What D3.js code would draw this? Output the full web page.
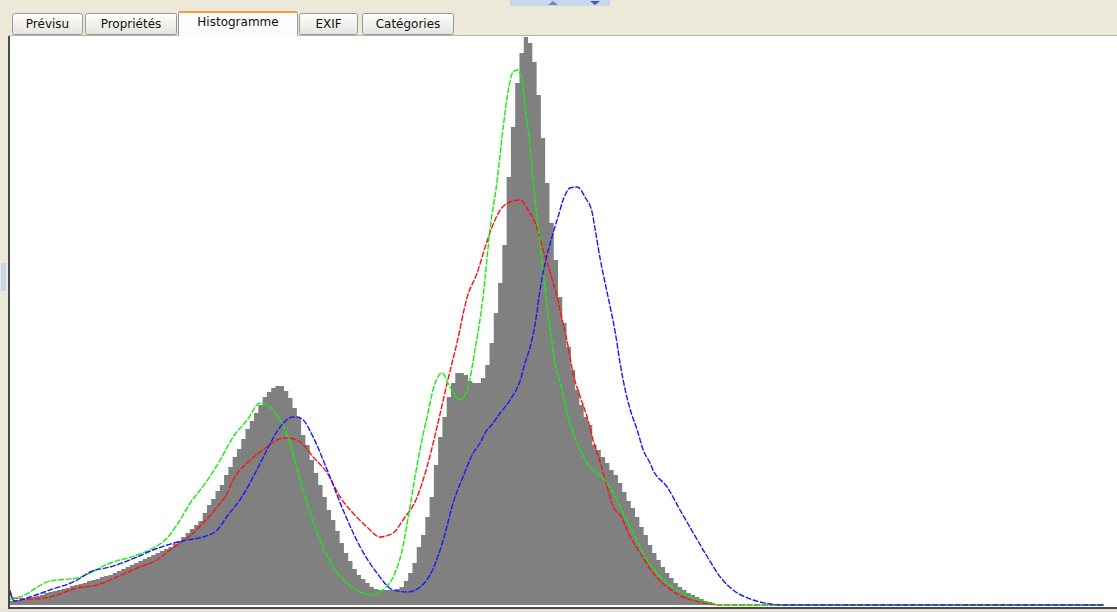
<!DOCTYPE html>
<html>
<head>
<meta charset="utf-8">
<script src="https://cdn.jsdelivr.net/npm/d3@7"></script>
<style>
  html, body { margin: 0; padding: 0; background: #ece9d8; }
  svg { display: block; }
</style>
</head>
<body>
<div id="chart"></div>
<script>
// onglets
var tabs = ["Prévisu", "Propriétés", "Histogramme", "EXIF", "Catégories"];
var activeTab = "Histogramme";

// histogramme de luminance (hauteur, niveaux 0..164)
var grayCounts = [
  4, 5, 5, 6, 7, 8, 9, 10, 12, 13, 14, 15, 16, 17, 19, 20, 21, 22, 24, 25,
  26, 28, 29, 30, 32, 34, 36, 38, 40, 42, 44, 46, 48, 50, 52, 54, 56, 58, 61, 64,
  68, 72, 76, 80, 84, 92, 100, 106, 114, 120, 130, 138, 148, 156, 166, 176, 184, 192, 200, 208,
  213, 217, 219, 219, 214, 207, 197, 187, 170, 160, 145, 132, 120, 108, 95, 85, 74, 62, 52, 44,
  36, 30, 26, 22, 18, 16, 15, 15, 15, 15, 16, 18, 24, 32, 42, 58, 70, 88, 108, 140,
  168, 188, 208, 222, 232, 232, 230, 224, 222, 222, 227, 240, 262, 292, 322, 360, 428, 478, 522, 552,
  568, 562, 543, 510, 467, 422, 382, 345, 308, 282, 258, 235, 215, 200, 188, 180, 160, 155, 148, 142,
  135, 130, 122, 113, 104, 97, 88, 78, 70, 60, 52, 45, 38, 32, 27, 22, 18, 15, 12, 10,
  8, 6, 4, 3, 1
];

// courbes R, V, B : [niveau, hauteur]
var redCurve = [
  [0, 15], [0.7, 7], [4.7, 6], [9.3, 8], [15.7, 17], [20.3, 20], [25, 28], [29.7, 37],
  [34.3, 45], [37.4, 55], [39.7, 62], [42.8, 72], [45.1, 82], [48.4, 98], [50.9, 113],
  [52.1, 125], [55.4, 142], [59.1, 155], [62.4, 165], [64.7, 167], [67.8, 163], [70.8, 148],
  [74.1, 132], [77.1, 108], [80.1, 92], [83.4, 78], [86.4, 68], [89.5, 72], [91.8, 85],
  [95.1, 108], [97.4, 138], [100.5, 192], [102.1, 222], [104.4, 262], [106.8, 308],
  [109.1, 332], [111, 358], [112.6, 378], [114.5, 395], [116.8, 403], [119.2, 405],
  [121, 395], [122.7, 382], [124.3, 358], [126.2, 332], [127.8, 308], [129, 285],
  [130.4, 258], [131.5, 232], [133.2, 208], [134.8, 188], [136.2, 165], [137.9, 142],
  [139.5, 118], [140.9, 98], [142.5, 90], [144.9, 68], [147.2, 52], [150.2, 32],
  [153.5, 18], [157.2, 8], [161.2, 3], [163.6, 1], [165, 0], [255.5, 0]
];

var greenCurve = [
  [0, 6], [2.3, 8], [9.3, 24], [15.7, 27], [23.4, 42], [29.7, 50], [33.4, 57], [36.7, 67],
  [39, 80], [42.1, 102], [46, 124], [49.1, 145], [52.1, 168], [55.4, 185], [58.4, 202],
  [60.7, 198], [63.1, 185], [65.4, 162], [67.8, 125], [70.1, 92], [72.4, 65], [75.5, 38],
  [78.7, 22], [81.8, 13], [84.8, 10], [87.1, 15], [89.5, 28], [91.6, 55], [93.5, 100],
  [95.3, 145], [97.4, 188], [99.3, 222], [100.9, 232], [102.8, 218], [105.1, 205],
  [106.8, 215], [108.6, 255], [110.5, 308], [112.1, 375], [113.8, 425], [115.2, 478],
  [116.4, 515], [117.5, 533], [118.5, 535], [119.6, 525], [120.3, 498], [121.5, 458],
  [122.2, 425], [123.1, 388], [123.8, 362], [124.5, 335], [125.5, 298], [126.2, 275],
  [127.3, 242], [129, 215], [130.1, 192], [131.3, 175], [133.2, 155], [134.8, 142],
  [137.1, 132], [139.5, 122], [141.8, 105], [142.5, 98], [145.6, 72], [148.8, 45],
  [151.9, 28], [155.8, 15], [159.6, 7], [163.6, 2], [166.6, 0], [255.5, 0]
];

var blueCurve = [
  [0, 13], [1, 4], [4.7, 8], [9.3, 15], [15.7, 25], [18.7, 33], [23.4, 38], [29.7, 48],
  [33.4, 55], [36.7, 60], [41.4, 65], [45.1, 68], [48.4, 75], [50.9, 90], [53.7, 105],
  [56.8, 128], [60, 155], [63.1, 178], [66.1, 188], [67.1, 188], [68.5, 185], [70.8, 168],
  [74.1, 135], [77.8, 95], [81.8, 58], [85.7, 32], [89.5, 15], [92.8, 13], [95.8, 18],
  [98.8, 36], [101.2, 65], [103.5, 102], [105.8, 128], [108.2, 152], [109.8, 162],
  [111.4, 175], [112.1, 178], [114.5, 192], [116.8, 205], [119.2, 225], [120.3, 242],
  [121.5, 258], [122.7, 282], [123.8, 315], [125, 342], [126.6, 368], [128, 388],
  [129.2, 405], [130.8, 417], [132.5, 418], [134.3, 408], [136, 392], [136.7, 375],
  [137.9, 345], [139, 322], [140.2, 298], [141.4, 272], [142.5, 242], [143.7, 215],
  [144.9, 195], [146.5, 175], [147.9, 155], [149.5, 142], [150.2, 135], [153.5, 118],
  [156.5, 95], [159.6, 72], [162.9, 48], [165.9, 28], [168.9, 15], [173.6, 5],
  [177.6, 1], [180, 0], [255.5, 0]
];

var W = 1117, H = 612;
var svg = d3.select("#chart").append("svg").attr("width", W).attr("height", H);

// fond beige
svg.append("rect").attr("width", W).attr("height", H).attr("fill", "#ece9d8");

// petite poignée du séparateur en haut
var grip = svg.append("g");
grip.append("rect").attr("x", 510).attr("y", 0).attr("width", 100).attr("height", 6)
  .attr("fill", "#c9d6f0");
grip.append("path").attr("d", "M548,5 L553,1 L558,5 Z").attr("fill", "#6f86c4");
grip.append("path").attr("d", "M590,1 L595,5 L600,1 Z").attr("fill", "#3c58b0");
// poignée à gauche
svg.append("rect").attr("x", 1).attr("y", 263).attr("width", 5).attr("height", 28)
  .attr("fill", "#c9d6f0");

// onglets
var tabX = [12, 85, 178, 299, 362];
var tabW = [70, 91, 119, 58, 91];
var defs = svg.append("defs");
var grad = defs.append("linearGradient").attr("id", "tabGrad")
  .attr("x1", 0).attr("y1", 0).attr("x2", 0).attr("y2", 1);
grad.append("stop").attr("offset", "0%").attr("stop-color", "#fefefe");
grad.append("stop").attr("offset", "100%").attr("stop-color", "#e6e4dc");

var tabG = svg.append("g");
tabs.forEach(function(t, i){
  var on = (t === activeTab);
  var g = tabG.append("g");
  g.append("rect")
    .attr("x", tabX[i] + 0.5).attr("y", on ? 11.5 : 13.5)
    .attr("width", tabW[i]).attr("height", on ? 25 : 21)
    .attr("rx", 2)
    .attr("fill", on ? "#fcfcfe" : "url(#tabGrad)")
    .attr("stroke", "#919b9c");
  if(on){
    g.append("rect").attr("x", tabX[i] + 1).attr("y", 11).attr("width", tabW[i] - 1).attr("height", 2)
      .attr("fill", "#f1a235");
  }
  g.append("text")
    .attr("x", tabX[i] + tabW[i] / 2 + 0.5).attr("y", on ? 26 : 28)
    .attr("text-anchor", "middle")
    .attr("font-family", "'DejaVu Sans', Tahoma, sans-serif")
    .attr("font-size", 12)
    .attr("fill", "#111")
    .text(t);
});

// panneau blanc
svg.append("rect").attr("x", 9).attr("y", 35).attr("width", W - 9).attr("height", 573)
  .attr("fill", "#ffffff");
svg.append("line").attr("x1", 9).attr("x2", W).attr("y1", 35.5).attr("y2", 35.5)
  .attr("stroke", "#b9b6a8");
// recoller l'onglet actif au panneau
svg.append("rect").attr("x", tabX[2] + 1).attr("y", 34).attr("width", tabW[2] - 1).attr("height", 3)
  .attr("fill", "#fcfcfe");

// échelles
var x = d3.scaleLinear().domain([0, 256]).range([10, 1106]);
var y = d3.scaleLinear().domain([0, 570]).range([605, 35]);

// histogramme gris en escalier
var steps = grayCounts.map(function(v, i){ return [i, v]; });
steps.push([grayCounts.length, 0]);
var area = d3.area()
  .x(function(d){ return x(d[0]); })
  .y0(y(0))
  .y1(function(d){ return y(d[1]); })
  .curve(d3.curveStepAfter);
svg.append("path")
  .attr("d", area(steps))
  .attr("fill", "#808080");

// courbes
var line = d3.line()
  .x(function(d){ return x(d[0]); })
  .y(function(d){ return y(d[1]); })
  .curve(d3.curveMonotoneX);

var curves = [
  {data: redCurve, color: "#ff1010"},
  {data: greenCurve, color: "#10f010"},
  {data: blueCurve, color: "#1818ff"}
];
svg.append("g").selectAll("path").data(curves).enter().append("path")
  .attr("d", function(d){ return line(d.data); })
  .attr("fill", "none")
  .attr("stroke", function(d){ return d.color; })
  .attr("stroke-width", 1.4)
  .attr("stroke-dasharray", "6,1.5");

// bordures du panneau
svg.append("rect").attr("x", 8).attr("y", 36).attr("width", 2).attr("height", 573).attr("fill", "#4a4a4a");
svg.append("rect").attr("x", 8).attr("y", 607).attr("width", W - 8).attr("height", 2).attr("fill", "#4a4a4a");
svg.append("rect").attr("x", 0).attr("y", 609).attr("width", W).attr("height", 3).attr("fill", "#e4e2da");
</script>
</body>
</html>
